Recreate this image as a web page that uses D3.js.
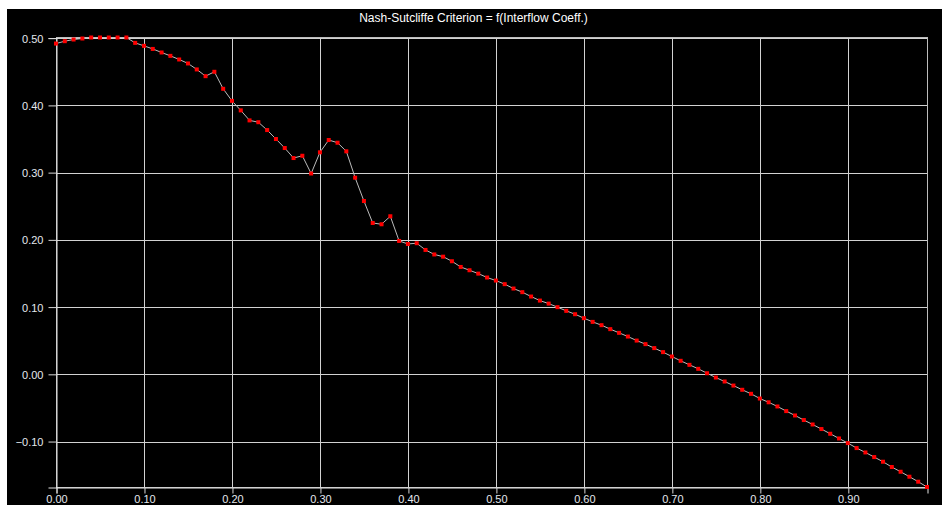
<!DOCTYPE html>
<html>
<head>
<meta charset="utf-8">
<script src="https://cdn.jsdelivr.net/npm/d3@7"></script>
<style>
  html, body { margin: 0; padding: 0; background: #ffffff; }
  svg { display: block; }
</style>
</head>
<body>
<svg id="chart" width="942" height="505"></svg>
<script>
// Interflow coefficient (0.00 .. 0.99 in steps of 0.01)
const coeffs = [
  0.00,0.01,0.02,0.03,0.04,0.05,0.06,0.07,0.08,0.09,
  0.10,0.11,0.12,0.13,0.14,0.15,0.16,0.17,0.18,0.19,
  0.20,0.21,0.22,0.23,0.24,0.25,0.26,0.27,0.28,0.29,
  0.30,0.31,0.32,0.33,0.34,0.35,0.36,0.37,0.38,0.39,
  0.40,0.41,0.42,0.43,0.44,0.45,0.46,0.47,0.48,0.49,
  0.50,0.51,0.52,0.53,0.54,0.55,0.56,0.57,0.58,0.59,
  0.60,0.61,0.62,0.63,0.64,0.65,0.66,0.67,0.68,0.69,
  0.70,0.71,0.72,0.73,0.74,0.75,0.76,0.77,0.78,0.79,
  0.80,0.81,0.82,0.83,0.84,0.85,0.86,0.87,0.88,0.89,
  0.90,0.91,0.92,0.93,0.94,0.95,0.96,0.97,0.98,0.99
];

// Nash-Sutcliffe efficiency for each coefficient
const nashValues = [
  0.492,0.4955,0.498,0.4995,0.501,0.501,0.501,0.501,0.501,0.493,
  0.4886,0.484,0.4787,0.4737,0.4683,0.4624,0.4535,0.4435,0.450,0.4247,
  0.4068,0.3926,0.3777,0.375,0.3633,0.350,0.3366,0.3217,0.3251,0.2987,
  0.3302,0.3485,0.3445,0.3317,0.2925,0.2578,0.2251,0.2232,0.2351,0.1984,
  0.1939,0.195,0.185,0.1783,0.175,0.1682,0.1597,0.1548,0.1498,0.1440,
  0.1395,0.1341,0.1276,0.1222,0.1157,0.1097,0.1052,0.0999,0.0944,0.0894,
  0.0835,0.078,0.0731,0.0672,0.0617,0.0562,0.0502,0.0449,0.039,0.033,
  0.0265,0.0201,0.0141,0.0082,0.0016,-0.0048,-0.0107,-0.0167,-0.023,-0.029,
  -0.036,-0.0416,-0.0478,-0.0547,-0.0612,-0.068,-0.0746,-0.0814,-0.0884,-0.0954,
  -0.1023,-0.1097,-0.1162,-0.1231,-0.130,-0.1379,-0.1449,-0.1523,-0.1597,-0.1676
];

const xTicks = [0.00,0.10,0.20,0.30,0.40,0.50,0.60,0.70,0.80,0.90];
const yTicks = [-0.10,0.00,0.10,0.20,0.30,0.40,0.50];
const chartTitle = "Nash-Sutcliffe Criterion = f(Interflow Coeff.)";

const points = coeffs.map((c, i) => ({x: c, y: nashValues[i]}));

const svg = d3.select("#chart");
const W = 942, H = 505;
const plot = {left: 56, right: 927, top: 37.5, bottom: 487};

// Black panel
svg.append("rect")
  .attr("x", 7).attr("y", 9)
  .attr("width", W - 7).attr("height", H - 9)
  .attr("fill", "#000000");

svg.append("text")
  .attr("x", 473.5).attr("y", 22)
  .attr("text-anchor", "middle")
  .attr("fill", "#ffffff")
  .style("font-family", "'Liberation Sans', Arial, sans-serif")
  .style("font-size", "12px")
  .text(chartTitle);

const x = d3.scaleLinear()
  .domain([d3.min(coeffs), d3.max(coeffs)])
  .range([plot.left, plot.right]);
const y = d3.scaleLinear()
  .domain([d3.min(nashValues), d3.max(nashValues)])
  .range([plot.bottom, plot.top]);

const crisp = v => Math.round(v) + 0.5;
const gridColor = "#d2d2d2";

// Grid lines
svg.append("g").selectAll("line.v")
  .data(xTicks)
  .join("line")
  .attr("x1", d => crisp(x(d))).attr("x2", d => crisp(x(d)))
  .attr("y1", plot.top).attr("y2", plot.bottom)
  .attr("stroke", gridColor).attr("stroke-width", 1);

svg.append("g").selectAll("line.h")
  .data(yTicks)
  .join("line")
  .attr("x1", plot.left).attr("x2", plot.right)
  .attr("y1", d => crisp(y(d))).attr("y2", d => crisp(y(d)))
  .attr("stroke", gridColor).attr("stroke-width", 1);

// Plot frame
svg.append("rect")
  .attr("x", crisp(plot.left)).attr("y", crisp(plot.top) - 1)
  .attr("width", Math.round(plot.right) - Math.round(plot.left))
  .attr("height", Math.round(plot.bottom) - Math.round(plot.top) + 1)
  .attr("fill", "none")
  .attr("stroke", "#bdbdbd").attr("stroke-width", 1);

// Axes
const fmt = d3.format(".2f");
const axisFont = "'Liberation Sans', Arial, sans-serif";

const xAxis = svg.append("g")
  .attr("transform", `translate(0.5,${crisp(plot.bottom)})`)
  .call(d3.axisBottom(x).tickValues(xTicks).tickFormat(fmt).tickSize(6).tickPadding(2));
const yAxis = svg.append("g")
  .attr("transform", `translate(${crisp(plot.left)},0.5)`)
  .call(d3.axisLeft(y).tickValues(yTicks).tickFormat(fmt).tickSize(8).tickPadding(5));

[xAxis, yAxis].forEach(g => {
  g.select(".domain").attr("stroke", "#e6e6e6");
  g.selectAll(".tick line").attr("stroke", "#d8d8d8");
  g.selectAll(".tick text")
    .attr("fill", "#e4e8ee")
    .style("font-family", axisFont)
    .style("font-size", "11px");
});
yAxis.selectAll(".tick line").attr("transform", "translate(0,-0.5)");

// Series line
const line = d3.line().x(d => x(d.x)).y(d => y(d.y));
svg.append("path")
  .datum(points)
  .attr("d", line)
  .attr("fill", "none")
  .attr("stroke", "#bcbcbc")
  .attr("stroke-width", 1);

// Markers
svg.append("g").selectAll("rect")
  .data(points)
  .join("rect")
  .attr("x", d => x(d.x) - 2)
  .attr("y", d => y(d.y) - 2)
  .attr("width", 4).attr("height", 4)
  .attr("fill", "#ff0000");
</script>
</body>
</html>
